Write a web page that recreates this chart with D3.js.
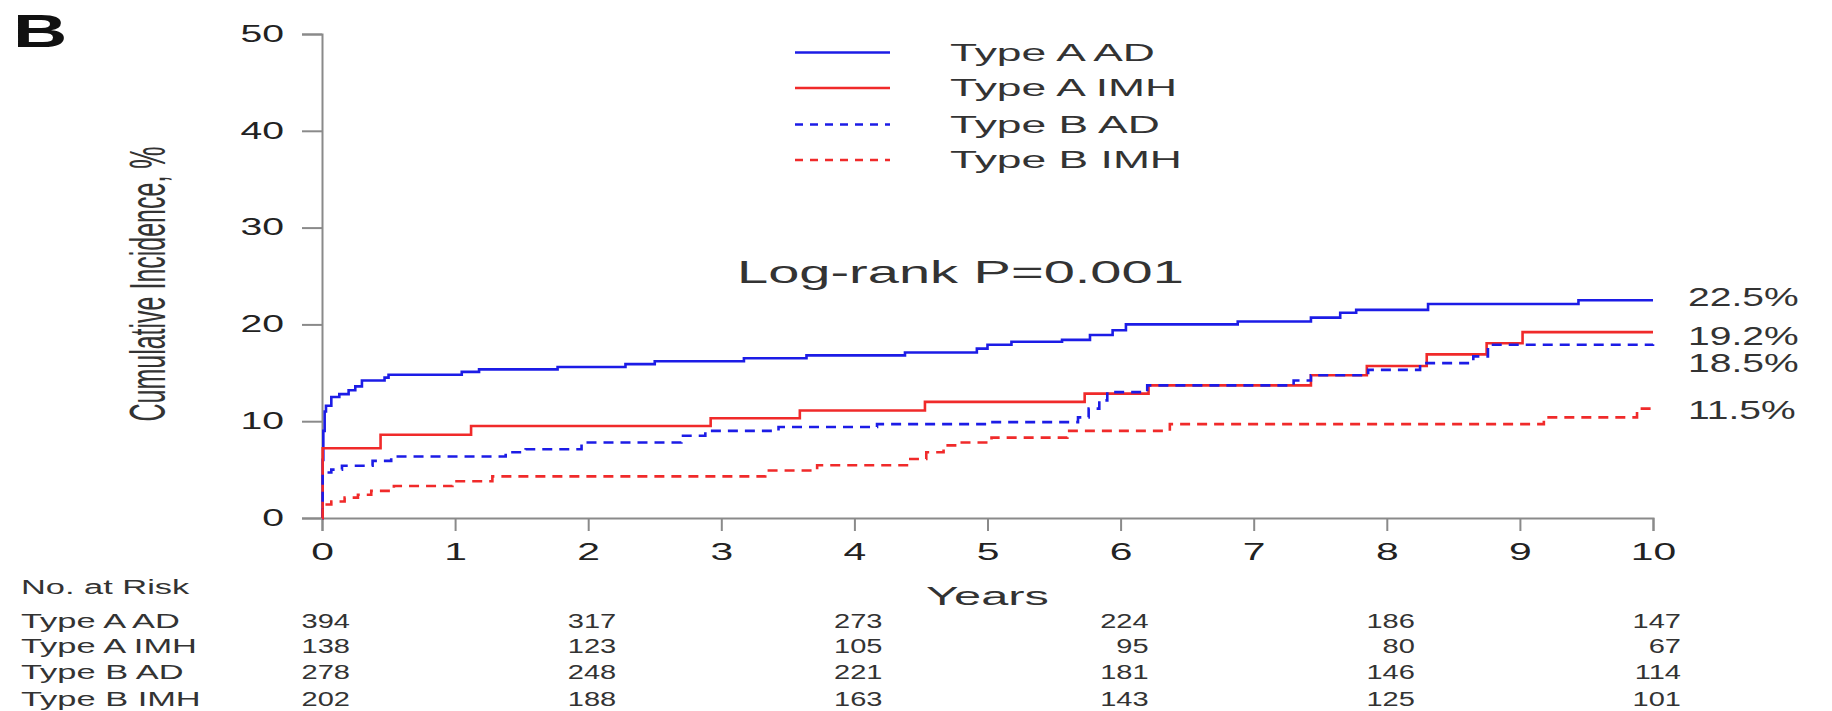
<!DOCTYPE html>
<html>
<head>
<meta charset="utf-8">
<title>Cumulative incidence</title>
<script src="https://cdn.jsdelivr.net/npm/d3@7"></script>
<style>
  html, body { margin: 0; padding: 0; background: #fff; }
  #chart svg { display: block; }
  text { font-family: "Liberation Sans", Arial, sans-serif; fill: #222; }
</style>
</head>
<body>
<div id="chart"></div>
<script>
// data: [years, cumulative incidence %], step-after
const typeAAD = [
  [0, 0], [0.005, 6], [0.01, 9], [0.02, 11], [0.03, 11.6], [0.07, 12.5], [0.13, 12.8],
  [0.2, 13.2], [0.25, 13.6], [0.3, 14.2], [0.47, 14.5], [0.5, 14.8], [1.05, 15.1],
  [1.18, 15.35], [1.77, 15.6], [2.28, 15.9], [2.5, 16.2], [3.17, 16.5], [3.64, 16.8],
  [4.38, 17.1], [4.92, 17.5], [5.0, 17.9], [5.18, 18.2], [5.56, 18.4], [5.77, 18.9],
  [5.94, 19.4], [6.04, 20.0], [6.88, 20.3], [7.43, 20.7], [7.65, 21.2], [7.77, 21.5],
  [8.31, 22.1], [9.44, 22.5], [10, 22.5]
];
const typeAIMH = [
  [0, 0], [0.005, 7.2], [0.44, 8.6], [1.12, 9.5], [2.92, 10.3], [3.59, 11.1], [4.53, 12.0],
  [5.73, 12.85], [6.21, 13.7], [7.43, 14.75], [7.85, 15.7], [8.3, 16.9], [8.75, 18.05],
  [9.02, 19.2], [10, 19.2]
];
const typeBAD = [
  [0, 0], [0.005, 4.7], [0.07, 5.0], [0.15, 5.4], [0.38, 5.9], [0.52, 6.35], [1.38, 6.8],
  [1.53, 7.1], [1.95, 7.8], [2.7, 8.5], [2.88, 9.0], [3.43, 9.4], [4.17, 9.7], [5.0, 9.9],
  [5.68, 10.4], [5.76, 11.3], [5.84, 12.15], [5.9, 13.0], [6.2, 13.7], [7.3, 14.2],
  [7.43, 14.75], [7.86, 15.3], [8.25, 16.0], [8.65, 16.7], [8.76, 17.9], [10, 17.95]
];
const typeBIMH = [
  [0, 0], [0.005, 1.4], [0.07, 1.7], [0.17, 2.1], [0.27, 2.4], [0.37, 2.8], [0.54, 3.3],
  [0.98, 3.8], [1.28, 4.3], [3.33, 4.9], [3.72, 5.45], [4.42, 6.1], [4.54, 6.8],
  [4.67, 7.5], [4.78, 7.8], [5.03, 8.3], [5.6, 9.0], [6.37, 9.7], [9.18, 10.4],
  [9.88, 11.3], [10, 11.3]
];

const seriesNames = ["Type A AD", "Type A IMH", "Type B AD", "Type B IMH"];
const endLabels = ["22.5%", "19.2%", "18.5%", "11.5%"];
const endValues = [22.5, 19.2, 18.5, 11.5];

const xTicks = [0, 1, 2, 3, 4, 5, 6, 7, 8, 9, 10];
const yTicks = [0, 10, 20, 30, 40, 50];

const riskYears = [0, 2, 4, 6, 8, 10];
const riskAAD = [394, 317, 273, 224, 186, 147];
const riskAIMH = [138, 123, 105, 95, 80, 67];
const riskBAD = [278, 248, 221, 181, 146, 114];
const riskBIMH = [202, 188, 163, 143, 125, 101];

(() => {
  const width = 1832, height = 711;
  const BLUE = "#1c1ce6", RED = "#f02a2a", AXIS = "#8a8a8a";

  const svg = d3.select("#chart").append("svg")
    .attr("width", width)
    .attr("height", height)
    .style("background", "#fff");

  // the figure is stretched sideways, so text gets stretched too
  const stretch = (sel, k) => sel.each(function () {
    const w = this.getComputedTextLength();
    d3.select(this).attr("textLength", w * k).attr("lengthAdjust", "spacingAndGlyphs");
  });

  const x = d3.scaleLinear().domain([0, 10]).range([322, 1653]);
  const y = d3.scaleLinear().domain([0, 50]).range([518, 34]);

  // panel letter
  svg.append("text")
    .attr("x", 13).attr("y", 47)
    .style("font-size", "47px").style("font-weight", "bold").style("fill", "#111")
    .text("B")
    .call(stretch, 1.6);

  // y axis
  const yAxis = svg.append("g")
    .attr("transform", `translate(${x(0)},0)`)
    .call(d3.axisLeft(y).tickValues(yTicks).tickSize(20).tickPadding(18).tickFormat(d3.format("d")));
  yAxis.select(".domain").attr("stroke", AXIS).attr("stroke-width", 2);
  yAxis.selectAll(".tick line").attr("stroke", AXIS).attr("stroke-width", 2);
  yAxis.selectAll(".tick text")
    .attr("fill", "#333").style("font-size", "23px").style("font-family", null)
    .call(stretch, 1.7);

  // x axis
  const xAxis = svg.append("g")
    .attr("transform", `translate(0,${y(0)})`)
    .call(d3.axisBottom(x).tickValues(xTicks).tickSize(13).tickSizeOuter(13).tickPadding(12).tickFormat(d3.format("d")));
  xAxis.select(".domain").attr("stroke", AXIS).attr("stroke-width", 2);
  xAxis.selectAll(".tick line").attr("stroke", AXIS).attr("stroke-width", 2);
  xAxis.selectAll(".tick text")
    .attr("fill", "#333").style("font-size", "24px").style("font-family", null)
    .call(stretch, 1.7);

  // y axis title
  svg.append("text")
    .attr("transform", "translate(147,284) scale(2,1) rotate(-90)")
    .attr("text-anchor", "middle")
    .attr("dy", "0.35em")
    .style("font-size", "25px").style("fill", "#333")
    .text("Cumulative Incidence, %");

  svg.append("text")
    .attr("x", x(5)).attr("y", 605)
    .attr("text-anchor", "middle")
    .style("font-size", "25px").style("fill", "#333")
    .text("Years")
    .call(stretch, 1.95);

  // curves
  const series = [
    { name: seriesNames[0], data: typeAAD, color: BLUE, dash: null },
    { name: seriesNames[1], data: typeAIMH, color: RED, dash: null },
    { name: seriesNames[2], data: typeBAD, color: BLUE, dash: "10,7" },
    { name: seriesNames[3], data: typeBIMH, color: RED, dash: "10,7" }
  ];

  const line = d3.line()
    .x(d => x(d[0]))
    .y(d => y(d[1]))
    .curve(d3.curveStepAfter);

  svg.append("g").selectAll("path")
    .data(series)
    .join("path")
    .attr("d", d => line(d.data))
    .attr("fill", "none")
    .attr("stroke", d => d.color)
    .attr("stroke-width", 2.6)
    .attr("stroke-dasharray", d => d.dash);

  // end labels (nudged apart so 19.2 / 18.5 don't collide)
  const nudge = [-3, 4, 24, 3];
  svg.append("g").selectAll("text")
    .data(endLabels)
    .join("text")
    .attr("x", 1688)
    .attr("y", (d, i) => y(endValues[i]) + nudge[i])
    .attr("dy", "0.35em")
    .style("font-size", "26px").style("fill", "#333")
    .text(d => d)
    .each(function () { stretch(d3.select(this), 1.5); });

  // legend
  const leg = svg.append("g");
  const legRows = [52.5, 88, 124.5, 160];
  series.forEach((s, i) => {
    leg.append("line")
      .attr("x1", 795).attr("x2", 890)
      .attr("y1", legRows[i]).attr("y2", legRows[i])
      .attr("stroke", s.color)
      .attr("stroke-width", 2.4)
      .attr("stroke-dasharray", s.dash ? "8,7" : null);
    leg.append("text")
      .attr("x", 950).attr("y", legRows[i] + 8)
      .style("font-size", "24px").style("fill", "#333")
      .text(s.name)
      .call(stretch, 1.85);
  });

  svg.append("text")
    .attr("x", 737).attr("y", 283)
    .style("font-size", "32px").style("fill", "#333")
    .text("Log-rank P=0.001")
    .call(stretch, 1.75);

  // number at risk table
  const riskRows = [riskAAD, riskAIMH, riskBAD, riskBIMH];
  const rowY = [621, 646, 672, 699];

  svg.append("text")
    .attr("x", 21).attr("y", 587)
    .attr("dy", "0.35em")
    .style("font-size", "20px").style("fill", "#333")
    .text("No. at Risk")
    .call(stretch, 1.72);

  riskRows.forEach((row, i) => {
    svg.append("text")
      .attr("x", 21).attr("y", rowY[i])
      .attr("dy", "0.35em")
      .style("font-size", "20px").style("fill", "#333")
      .text(seriesNames[i])
      .call(stretch, 1.72);

    svg.append("g").selectAll("text")
      .data(row)
      .join("text")
      .attr("x", (d, j) => x(riskYears[j]) + 28)
      .attr("y", rowY[i])
      .attr("dy", "0.35em")
      .attr("text-anchor", "end")
      .style("font-size", "20px").style("fill", "#333")
      .text(d => d)
      .each(function () { stretch(d3.select(this), 1.45); });
  });
})();
</script>
</body>
</html>
